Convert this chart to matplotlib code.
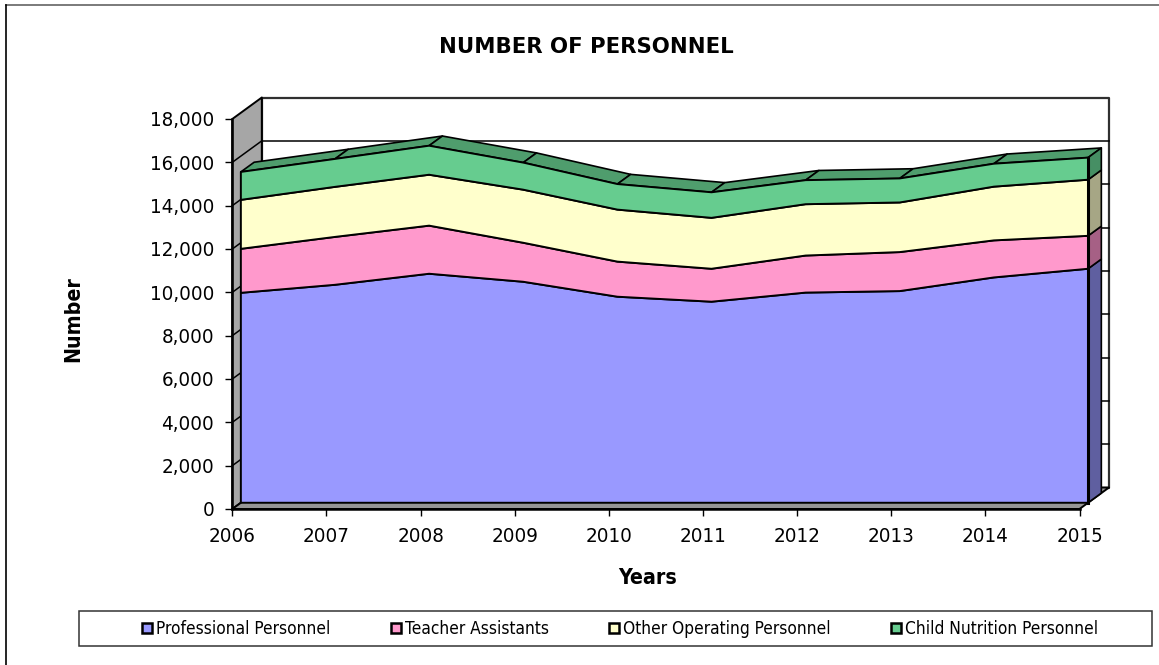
import matplotlib
matplotlib.use("Agg")
import matplotlib.pyplot as plt
import numpy as np
from matplotlib.patches import Polygon, Rectangle, Patch
from matplotlib.lines import Line2D
from matplotlib.ticker import FuncFormatter, MultipleLocator
from matplotlib.transforms import IdentityTransform

years = [2006, 2007, 2008, 2009, 2010, 2011, 2012, 2013, 2014, 2015]
professional = [9690, 10060, 10570, 10200, 9510, 9280, 9700, 9770, 10400, 10800]
teacher = [2030, 2210, 2220, 1800, 1620, 1520, 1710, 1800, 1710, 1520]
other = [2260, 2310, 2350, 2450, 2400, 2350, 2370, 2290, 2480, 2590]
child = [1290, 1290, 1340, 1250, 1180, 1180, 1110, 1110, 1060, 1020]
names = ["Professional Personnel", "Teacher Assistants", "Other Operating Personnel", "Child Nutrition Personnel"]
front_colors = ["#9999FF", "#FF99CC", "#FFFFCC", "#66CC8F"]
side_colors = ["#5F5FA0", "#A66085", "#A6A685", "#468F64"]
top_color = "#4F9D6D"

W, H = 1159, 665
plt.rcParams["font.family"] = "DejaVu Sans"
plt.rcParams["font.stretch"] = "condensed"
fig = plt.figure(figsize=(W / 100, H / 100), dpi=100, facecolor="white")

X0, X1, Y0, Y1 = 232.3, 1079.5, 509.0, 119.0
ax = fig.add_axes([X0 / W, 1 - Y0 / H, (X1 - X0) / W, (Y0 - Y1) / H])
ax.set_xlim(years[0], years[-1])
ax.set_ylim(0, 18000)
ax.patch.set_visible(False)
for s in ("top", "right"):
    ax.spines[s].set_visible(False)
for s in ("left", "bottom"):
    ax.spines[s].set_linewidth(1.8)
    ax.spines[s].set_zorder(20)
ax.set_xticks(years)
ax.yaxis.set_major_locator(MultipleLocator(2000))
ax.yaxis.set_major_formatter(FuncFormatter(lambda v, _: f"{v:,.0f}"))
ax.tick_params(axis="both", labelsize=14.7, length=5, width=1, colors="black", pad=8)
ax.tick_params(axis="x", pad=8)

DEPTH = (29.5, 21.5)
F_FRONT = 0.29
F_BACK = 0.74


def disp(x, y, f=0.0):
    p = ax.transData.transform(np.column_stack([np.atleast_1d(x), np.atleast_1d(y)]).astype(float))
    return p + np.array([DEPTH[0] * f, DEPTH[1] * f])


def poly(pts, fc, z, ec="black", lw=1.0):
    ax.add_patch(Polygon(pts, closed=True, facecolor=fc, edgecolor=ec, linewidth=lw,
                         transform=IdentityTransform(), clip_on=False, zorder=z, joinstyle="round"))


def seg(a, b, z, lw=1.2, color="black"):
    ax.add_line(Line2D([a[0], b[0]], [a[1], b[1]], color=color, linewidth=lw,
                       transform=IdentityTransform(), clip_on=False, zorder=z))


xa, xb = years[0], years[-1]
# walls and floor
poly(np.vstack([disp(xa, 0, 1), disp(xb, 0, 1), disp(xb, 18000, 1), disp(xa, 18000, 1)]), "white", 1, ec="#303030", lw=1.6)
poly(np.vstack([disp(xa, 0), disp(xa, 0, 1), disp(xa, 18000, 1), disp(xa, 18000)]), "#A6A6A6", 2, lw=1.4)
poly(np.vstack([disp(xa, 0), disp(xb, 0), disp(xb, 0, 1), disp(xa, 0, 1)]), "#969696", 2, lw=1.4)
for v in range(2000, 18000, 2000):
    seg(disp(xa, v, 1)[0], disp(xb, v, 1)[0], 3, lw=1.1)
    seg(disp(xa, v)[0], disp(xa, v, 1)[0], 3, lw=1.1)

# stacked series
cum = np.zeros(len(years))
layers = []
for vals in (professional, teacher, other, child):
    lo = cum.copy()
    cum = cum + np.array(vals, float)
    layers.append((lo, cum.copy()))

# top surface of the stack
top = layers[-1][1]
for i in range(len(years) - 1):
    poly(np.vstack([disp(years[i], top[i], F_FRONT), disp(years[i + 1], top[i + 1], F_FRONT),
                    disp(years[i + 1], top[i + 1], F_BACK), disp(years[i], top[i], F_BACK)]),
         top_color, 5, lw=1.2)

# right end face and front faces
for (lo, hi), fc, sc in zip(layers, front_colors, side_colors):
    poly(np.vstack([disp(xb, lo[-1], F_FRONT), disp(xb, hi[-1], F_FRONT),
                    disp(xb, hi[-1], F_BACK), disp(xb, lo[-1], F_BACK)]), sc, 6, lw=1.2)
    front = np.vstack([disp(years, lo, F_FRONT), disp(years, hi, F_FRONT)[::-1]])
    poly(front, fc, 7, lw=1.4)
seg(disp(xb, 0, F_FRONT)[0], disp(xb, top[-1], F_FRONT)[0], 8, lw=2.2)


# furniture
def px_rect(x0, y0, x1, y1, ec, lw):
    fig.add_artist(Rectangle((x0, H - y1), x1 - x0, y1 - y0, transform=IdentityTransform(),
                             facecolor="none", edgecolor=ec, linewidth=lw))


def px_line(x0, y0, x1, y1, color, lw):
    fig.add_artist(Line2D([x0, x1], [H - y0, H - y1], color=color, linewidth=lw, transform=IdentityTransform()))


px_line(5.5, 4.7, W, 4.7, "#707070", 1.3)
px_line(5.5, 4.7, 5.5, H, "black", 1.2)
px_rect(79.3, 610.7, 1151.7, 646.3, "#333333", 1.1)
fig.text(586 / W, 1 - 47 / H, "NUMBER OF PERSONNEL", ha="center", va="center", fontsize=15.3,
         fontweight="bold", fontstretch="normal")
fig.text(648 / W, 1 - 578 / H, "Years", ha="center", va="center", fontsize=15.3, fontweight="bold")
fig.text(73 / W, 1 - 319 / H, "Number", ha="center", va="center", rotation=90, fontsize=15.3, fontweight="bold")

handles = [Patch(facecolor=c, edgecolor="black", linewidth=1.8) for c in front_colors]
fig.legend(handles, names, ncol=4, frameon=False, loc="center", bbox_to_anchor=(620 / W, 1 - 629 / H),
           fontsize=12.4, handlelength=0.58, handleheight=0.58, handletextpad=0.23, columnspacing=3.5,
           borderpad=0, borderaxespad=0)

fig.savefig("out.png", dpi=100)
